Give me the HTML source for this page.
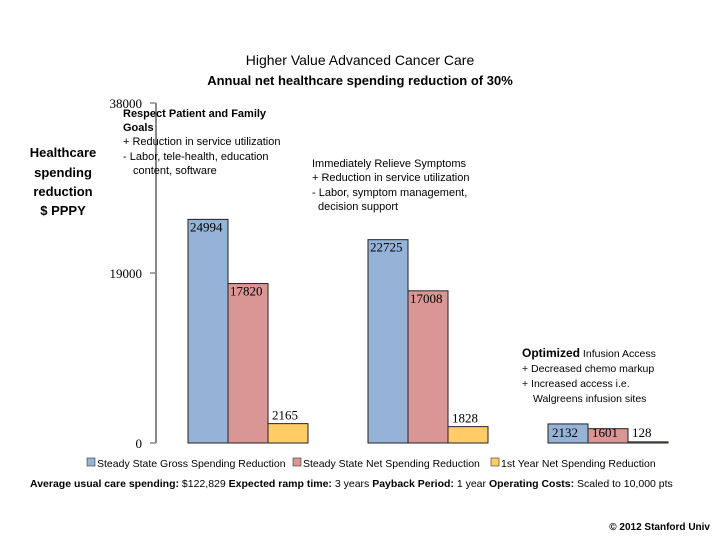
<!DOCTYPE html>
<html><head><meta charset="utf-8"><style>
body{margin:0;background:#fff;}
svg text{font-family:"Liberation Sans",sans-serif;}
svg text.serif{font-family:"Liberation Serif",serif;}
</style></head><body>
<svg id="chart" width="720" height="540" viewBox="0 0 720 540" xmlns="http://www.w3.org/2000/svg">
<text x="360" y="65" text-anchor="middle" font-size="14">Higher Value Advanced Cancer Care</text>
<text x="360" y="85" text-anchor="middle" font-size="13" font-weight="bold">Annual net healthcare spending reduction of 30%</text>
<g font-size="13" font-weight="bold" text-anchor="middle">
<text x="63" y="157">Healthcare</text><text x="63" y="177">spending</text><text x="63" y="196">reduction</text><text x="63" y="215">$ PPPY</text></g>
<g id="axis"></g>
<g id="bars"></g>
<g font-size="11">
<text x="123" y="117" font-weight="bold">Respect Patient and Family</text>
<text x="123" y="131" font-weight="bold">Goals</text>
<text x="123" y="145">+ Reduction in service utilization</text>
<text x="123" y="160">-  Labor, tele-health, education</text>
<text x="133" y="174">content, software</text></g>
<g font-size="11">
<text x="312" y="167">Immediately Relieve Symptoms</text>
<text x="312" y="181">+ Reduction in service utilization</text>
<text x="312" y="196">- Labor, symptom management,</text>
<text x="318" y="210">decision support</text></g>
<g font-size="10.5">
<text x="522" y="357"><tspan font-size="12" font-weight="bold">Optimized</tspan> Infusion Access</text>
<text x="522" y="372">+  Decreased chemo markup</text>
<text x="522" y="387">+  Increased access i.e.</text>
<text x="533" y="402">Walgreens infusion sites</text></g>
<g font-size="10.5">
<rect x="87" y="458" width="8" height="8" fill="#95b3d7" stroke="#333" stroke-width="0.6"/>
<text x="97" y="467">Steady State Gross Spending Reduction</text>
<rect x="293" y="458" width="8" height="8" fill="#d99694" stroke="#333" stroke-width="0.6"/>
<text x="303" y="467">Steady State Net Spending Reduction</text>
<rect x="491" y="458" width="8" height="8" fill="#ffcc66" stroke="#333" stroke-width="0.6"/>
<text x="501" y="467">1st Year Net Spending Reduction</text></g>
<text x="30" y="487" font-size="10.5"><tspan font-weight="bold">Average usual care spending:</tspan> $122,829 <tspan font-weight="bold">Expected ramp time:</tspan> 3 years <tspan font-weight="bold">Payback Period:</tspan> 1 year <tspan font-weight="bold">Operating Costs:</tspan> Scaled to 10,000 pts</text>
<text x="710" y="530" text-anchor="end" font-size="10" font-weight="bold">© 2012 Stanford Univ</text>
</svg>
<script>
const groups=["Respect Patient","Relieve Symptoms","Infusion Access"];
const gross=[24994,22725,2132];
const net=[17820,17008,1601];
const firstYear=[2165,1828,128];
const ticks=[0,19000,38000];
const tickLabels=["0","19000","38000"];
const NS="http://www.w3.org/2000/svg";
const y0=443,yTop=103,maxV=38000;
function y(v){return y0-(v/maxV)*(y0-yTop);}
function gx(i){return 188+i*180;}
const bw=40;
function mk(tag,attrs,parent){const e=document.createElementNS(NS,tag);for(const k in attrs)e.setAttribute(k,attrs[k]);parent.appendChild(e);return e;}
const ax=document.getElementById('axis');
const al=mk('line',{x1:156,y1:y(0),x2:156,y2:y(maxV),stroke:'#888','stroke-width':2},ax);


ticks.forEach((t,i)=>{
 const tl=mk('line',{x1:150,x2:156,y1:y(t),y2:y(t),stroke:'#888','stroke-width':1.5},ax);
 
 
 const tx=mk('text',{x:142,y:y(t)+5,'text-anchor':'end','font-size':13,'class':'serif'},ax);
 tx.textContent=tickLabels[i];
 
 
});
const series=[[gross,'#95b3d7','gross'],[net,'#d99694','net'],[firstYear,'#ffcc66','first-year']];
const bg=document.getElementById('bars');
groups.forEach((g,i)=>{
 series.forEach((s,j)=>{
  const v=s[0][i];const x=gx(i)+j*bw;
  const r=mk('rect',{x:x,y:y(v),width:bw,height:y0-y(v),fill:s[1],stroke:'#222','stroke-width':1},bg);
  
  
  const big=v>5000;
  const t=mk('text',{x:big?x+2:x+4,y:big?y(v)+12:y(v)-4,'font-size':13,'class':'serif'},bg);
  if(i==2){t.setAttribute('x',x+4);t.setAttribute('y',y0-6);}
  t.textContent=v;
  
  
 });
});
</script>
</body></html>
